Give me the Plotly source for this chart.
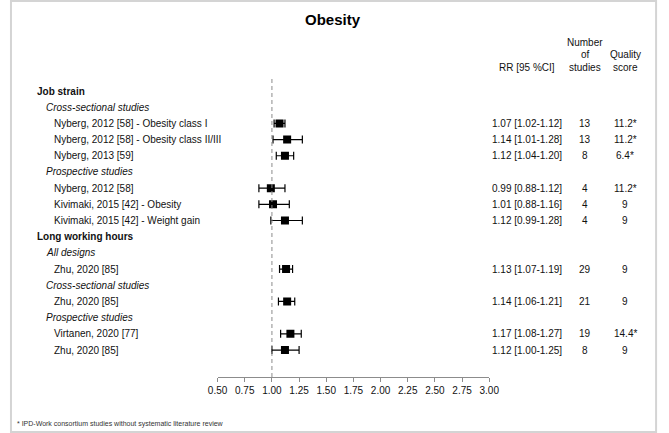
import plotly.graph_objects as go

# ---------------- data ----------------
labels = [
    "Job strain",
    "Cross-sectional studies",
    "Nyberg, 2012 [58] - Obesity class I",
    "Nyberg, 2012 [58] - Obesity class II/III",
    "Nyberg, 2013 [59]",
    "Prospective studies",
    "Nyberg, 2012 [58]",
    "Kivimaki, 2015 [42] - Obesity",
    "Kivimaki, 2015 [42] - Weight gain",
    "Long working hours",
    "All designs",
    "Zhu, 2020 [85]",
    "Cross-sectional studies",
    "Zhu, 2020 [85]",
    "Prospective studies",
    "Virtanen, 2020 [77]",
    "Zhu, 2020 [85]",
]
levels = [0, 1, 2, 2, 2, 1, 2, 2, 2, 0, 1, 2, 1, 2, 1, 2, 2]
rr = [None, None, 1.07, 1.14, 1.12, None, 0.99, 1.01, 1.12, None, None, 1.13, None, 1.14, None, 1.17, 1.12]
ci_low = [None, None, 1.02, 1.01, 1.04, None, 0.88, 0.88, 0.99, None, None, 1.07, None, 1.06, None, 1.08, 1.00]
ci_high = [None, None, 1.12, 1.28, 1.20, None, 1.12, 1.16, 1.28, None, None, 1.19, None, 1.21, None, 1.27, 1.25]
n_studies = [None, None, 13, 13, 8, None, 4, 4, 4, None, None, 29, None, 21, None, 19, 8]
quality = [None, None, "11.2*", "11.2*", "6.4*", None, "11.2*", "9", "9", None, None, "9", None, "9", None, "14.4*", "9"]
tick_values = [0.5, 0.75, 1.0, 1.25, 1.5, 1.75, 2.0, 2.25, 2.5, 2.75, 3.0]
tick_labels = ["0.50", "0.75", "1.00", "1.25", "1.50", "1.75", "2.00", "2.25", "2.50", "2.75", "3.00"]

# ---------------- layout helpers ----------------
W, H = 669, 433
AXIS_PX = 377          # pixel row of the x axis line
ROW0_PX = 91           # pixel of first row
ROW_STEP = 16.19       # pixels per row
FONT = "Arial, Liberation Sans, sans-serif"
TXT = "#111111"


def py(px):
    """pixel (from top) -> paper y"""
    return (AXIS_PX - px) / AXIS_PX


def pxx(px):
    return px / W


y_bottom = (AXIS_PX - ROW0_PX) / ROW_STEP
y_top = -ROW0_PX / ROW_STEP

sx, sy, ep, em = [], [], [], []
for i, v in enumerate(rr):
    if v is not None:
        sx.append(v)
        sy.append(i)
        ep.append(ci_high[i] - v)
        em.append(v - ci_low[i])

fig = go.Figure()
fig.add_trace(go.Scatter(
    x=sx, y=sy, mode="markers",
    marker=dict(symbol="square", size=8, color="black", line=dict(width=0)),
    error_x=dict(type="data", symmetric=False, array=ep, arrayminus=em,
                 color="black", thickness=1.2, width=4),
    showlegend=False, hoverinfo="skip",
))

ann = []
indent = {0: 26, 1: 35, 2: 43}
for i, lab in enumerate(labels):
    lv = levels[i]
    txt = f"<b>{lab}</b>" if lv == 0 else (f"<i>{lab}</i>" if lv == 1 else lab)
    ann.append(dict(x=pxx(indent[lv]), xref="paper", y=i, yref="y", text=txt,
                    showarrow=False, xanchor="left", yanchor="middle",
                    font=dict(size=10, family=FONT, color=TXT)))
    if rr[i] is not None:
        ann.append(dict(x=pxx(533), xref="paper", y=i, yref="y",
                        text=f"{rr[i]:.2f} [{ci_low[i]:.2f}-{ci_high[i]:.2f}]",
                        showarrow=False, xanchor="center", yanchor="middle",
                        font=dict(size=10, family=FONT, color=TXT)))
        ann.append(dict(x=pxx(593), xref="paper", y=i, yref="y", text=str(n_studies[i]),
                        showarrow=False, xanchor="center", yanchor="middle",
                        font=dict(size=10, family=FONT, color=TXT)))
        ann.append(dict(x=pxx(634), xref="paper", y=i, yref="y", text=quality[i],
                        showarrow=False, xanchor="center", yanchor="middle",
                        font=dict(size=10, family=FONT, color=TXT)))

# column headers
hdr = [("RR [95 %CI]", 533, 67), ("Number", 593, 43), ("of", 593, 55), ("studies", 593, 67),
       ("Quality", 634, 55), ("score", 634, 67)]
for t, x, y in hdr:
    ann.append(dict(x=pxx(x), xref="paper", y=py(y), yref="paper", text=t, showarrow=False,
                    xanchor="center", yanchor="middle", font=dict(size=10, family=FONT, color=TXT)))

# title
ann.append(dict(x=pxx(333), xref="paper", y=py(19), yref="paper", text="<b>Obesity</b>",
                showarrow=False, xanchor="center", yanchor="middle",
                font=dict(size=15, family=FONT, color="black")))
# footnote
ann.append(dict(x=pxx(5), xref="paper", y=py(424), yref="paper",
                text="* IPD-Work consortium studies without systematic literature review",
                showarrow=False, xanchor="left", yanchor="middle",
                font=dict(size=7, family=FONT, color="#333333")))

shapes = [
    dict(type="line", xref="x", yref="paper", x0=1, x1=1, y0=0, y1=py(78),
         line=dict(color="#8c8c8c", width=1, dash="4px,3px")),
    dict(type="rect", xref="paper", yref="paper", x0=pxx(1), x1=pxx(666), y0=py(432), y1=py(1),
         line=dict(color="#d4d4d4", width=2)),
]

fig.update_layout(
    width=W, height=H,
    margin=dict(l=0, r=0, t=0, b=H - AXIS_PX, pad=0),
    paper_bgcolor="white", plot_bgcolor="white",
    annotations=ann, shapes=shapes,
    xaxis=dict(domain=[pxx(214), pxx(494)], range=[0.5, 3.0], tickvals=tick_values,
               ticktext=tick_labels, ticks="outside", ticklen=4, tickcolor="#8c8c8c",
               showline=True, linecolor="#8c8c8c", linewidth=1, showgrid=False, zeroline=False,
               tickfont=dict(size=10, family=FONT, color=TXT), fixedrange=True),
    yaxis=dict(range=[y_bottom, y_top], visible=False, showgrid=False, zeroline=False,
               fixedrange=True),
    showlegend=False,
)

fig.write_html("out.html", config={"displayModeBar": False},
               post_script="document.body.style.margin='0';")
